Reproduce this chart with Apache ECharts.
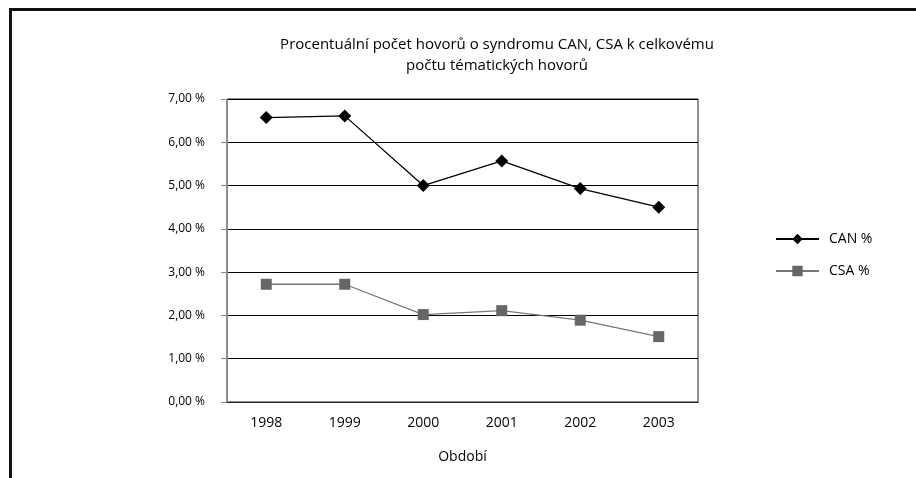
<!DOCTYPE html>
<html>
<head>
<meta charset="utf-8">
<script src="https://cdn.jsdelivr.net/npm/echarts@6/dist/echarts.min.js"></script>
<style>
  html, body { margin: 0; padding: 0; background: #fff; }
  #chart { width: 916px; height: 478px; }
</style>
</head>
<body>
<div id="chart"></div>
<script>
// roky a hodnoty
const years = ['1998', '1999', '2000', '2001', '2002', '2003'];
const canValues = [6.57, 6.61, 5.0, 5.57, 4.93, 4.5];
const csaValues = [2.72, 2.72, 2.02, 2.11, 1.89, 1.51];
const yTicks = [0, 1, 2, 3, 4, 5, 6, 7];

const chart = echarts.init(document.getElementById('chart'));
const font = '"Open Sans", "Noto Sans", sans-serif';

const option = {
  backgroundColor: '#fff',
  animation: false,
  textStyle: { fontFamily: font, color: '#000' },
  title: {
    text: 'Procentuální počet hovorů o syndromu CAN, CSA k celkovému\npočtu tématických hovorů',
    left: 492,
    top: 29,
    textAlign: 'center',
    textStyle: { fontSize: 15, fontWeight: 'normal', color: '#000', lineHeight: 21, fontFamily: font }
  },
  graphic: [
    // rámeček grafu (jen levá a horní hrana)
    { type: 'line', shape: { x1: 10, y1: 9.5, x2: 916, y2: 9.5 }, style: { stroke: '#111', lineWidth: 3 } },
    { type: 'line', shape: { x1: 10.5, y1: 8, x2: 10.5, y2: 478 }, style: { stroke: '#111', lineWidth: 3 } }
  ],
  legend: {
    orient: 'vertical',
    left: 770,
    top: 227,
    itemWidth: 43,
    itemHeight: 13,
    itemGap: 18,
    textStyle: { fontSize: 14, color: '#000', fontFamily: font, padding: [0, 0, 0, 5] },
    data: ['CAN %', 'CSA %']
  },
  grid: { left: 227, right: 218, top: 99, bottom: 76, show: true, borderColor: '#222', borderWidth: 1 },
  xAxis: {
    type: 'category',
    data: years,
    boundaryGap: true,
    name: 'Období',
    nameLocation: 'middle',
    nameGap: 48,
    nameTextStyle: { fontSize: 14, color: '#000', fontFamily: font },
    axisLine: { lineStyle: { color: '#222' } },
    axisTick: { show: false },
    axisLabel: { fontSize: 14, color: '#000', margin: 14, fontFamily: font }
  },
  yAxis: {
    type: 'value',
    min: yTicks[0],
    max: yTicks[yTicks.length - 1],
    interval: 1,
    axisLine: { show: true, lineStyle: { color: '#888' } },
    axisTick: { show: true, length: 6, lineStyle: { color: '#888' } },
    axisLabel: {
      fontSize: 12,
      color: '#000',
      margin: 22,
      fontFamily: font,
      formatter: v => v.toFixed(2).replace('.', ',') + ' %'
    },
    splitLine: { show: true, lineStyle: { color: '#000', width: 1 } }
  },
  series: [
    {
      name: 'CAN %',
      type: 'line',
      data: canValues,
      symbol: 'diamond',
      symbolSize: 13,
      itemStyle: { color: '#000' },
      lineStyle: { color: '#000', width: 1.3 }
    },
    {
      name: 'CSA %',
      type: 'line',
      data: csaValues,
      symbol: 'rect',
      symbolSize: 11,
      itemStyle: { color: '#666' },
      lineStyle: { color: '#777', width: 1.3 }
    }
  ]
};

chart.setOption(option);
</script>
</body>
</html>
